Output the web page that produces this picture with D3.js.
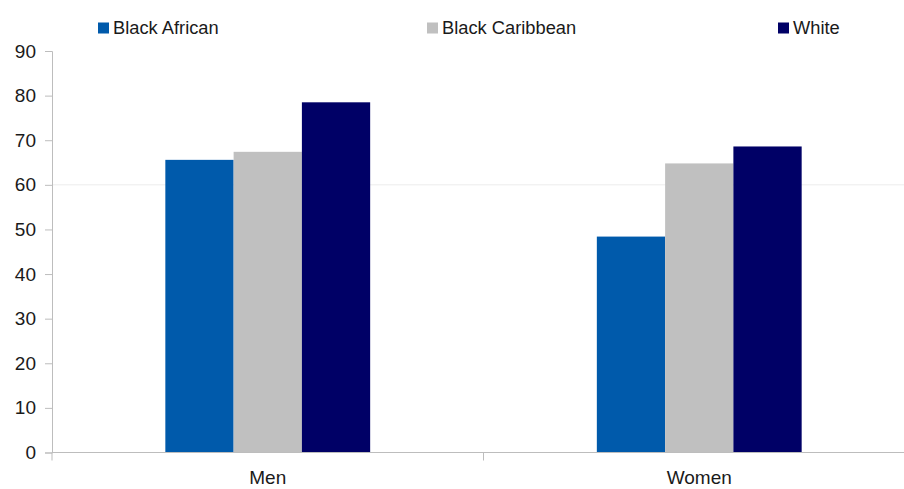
<!DOCTYPE html>
<html><head><meta charset="utf-8">
<script src="https://cdn.jsdelivr.net/npm/d3@7"></script>
<style>
body{margin:0;background:#fff;}
svg{display:block;font-family:"Liberation Sans",Arial,sans-serif;}
</style></head>
<body><svg id="c" width="904" height="489"></svg>
<script>
const categories = ["Men", "Women"];
const series = ["Black African", "Black Caribbean", "White"];
const blackAfrican = [65.6, 48.4];
const blackCaribbean = [67.4, 64.8];
const white = [78.5, 68.6];
const yTicks = [0, 10, 20, 30, 40, 50, 60, 70, 80, 90];
const colors = ["#005aab", "#c0c0c0", "#000066"];

(function () {
const values = [blackAfrican, blackCaribbean, white];
const svg = d3.select("#c");
const mLeft = 52, mRight = 915, mTop = 51, mBottom = 452.5;

const x = d3.scaleBand().domain(categories).range([mLeft, mRight]).padding(0);
const x1 = d3.scaleBand().domain(series).range([0, x.bandwidth()]).paddingInner(0).paddingOuter(1.66);
const y = d3.scaleLinear().domain([0, 90]).range([mBottom, mTop]);

// gridline at 60
svg.append("line").attr("x1", mLeft).attr("x2", 904).attr("y1", y(60)).attr("y2", y(60))
  .attr("stroke", "#ececec").attr("stroke-width", 1);

// bars
categories.forEach((c, ci) => {
  series.forEach((s, si) => {
    const v = values[si][ci];
    svg.append("rect")
      .attr("x", x(c) + x1(s))
      .attr("y", y(v))
      .attr("width", x1.bandwidth())
      .attr("height", y(0) - y(v))
      .attr("fill", colors[si]);
  });
});

// y axis
const ya = svg.append("g").attr("transform", `translate(${mLeft},0)`)
  .call(d3.axisLeft(y).tickValues(yTicks).tickSize(7).tickPadding(9));
ya.select(".domain").attr("stroke", "#bdbdbd");
ya.selectAll(".tick line").attr("stroke", "#bdbdbd");
ya.selectAll("text").attr("font-size", 19).attr("fill", "#1a1a1a")
  .attr("font-family", "'Liberation Sans', Arial, sans-serif");

// x axis
svg.append("line").attr("x1", mLeft).attr("x2", 904).attr("y1", mBottom).attr("y2", mBottom)
  .attr("stroke", "#bdbdbd");
const bounds = categories.map(c => x(c)).concat([x(categories[categories.length-1]) + x.bandwidth()]);
svg.selectAll(".xt").data(bounds).enter().append("line")
  .attr("x1", d => d).attr("x2", d => d).attr("y1", mBottom).attr("y2", mBottom + 8)
  .attr("stroke", "#bdbdbd");
svg.selectAll(".xl").data(categories).enter().append("text")
  .attr("x", d => x(d) + x.bandwidth() / 2).attr("y", 484)
  .attr("text-anchor", "middle").attr("font-size", 19).attr("fill", "#1a1a1a")
  .text(d => d);

// legend
const legX = [98, 427, 778];
series.forEach((s, i) => {
  svg.append("rect").attr("x", legX[i]).attr("y", 22.5).attr("width", 11).attr("height", 11).attr("fill", colors[i]);
  svg.append("text").attr("x", legX[i] + 15).attr("y", 34).attr("font-size", 18.3).attr("fill", "#1a1a1a").text(s);
});
})();
</script></body></html>
